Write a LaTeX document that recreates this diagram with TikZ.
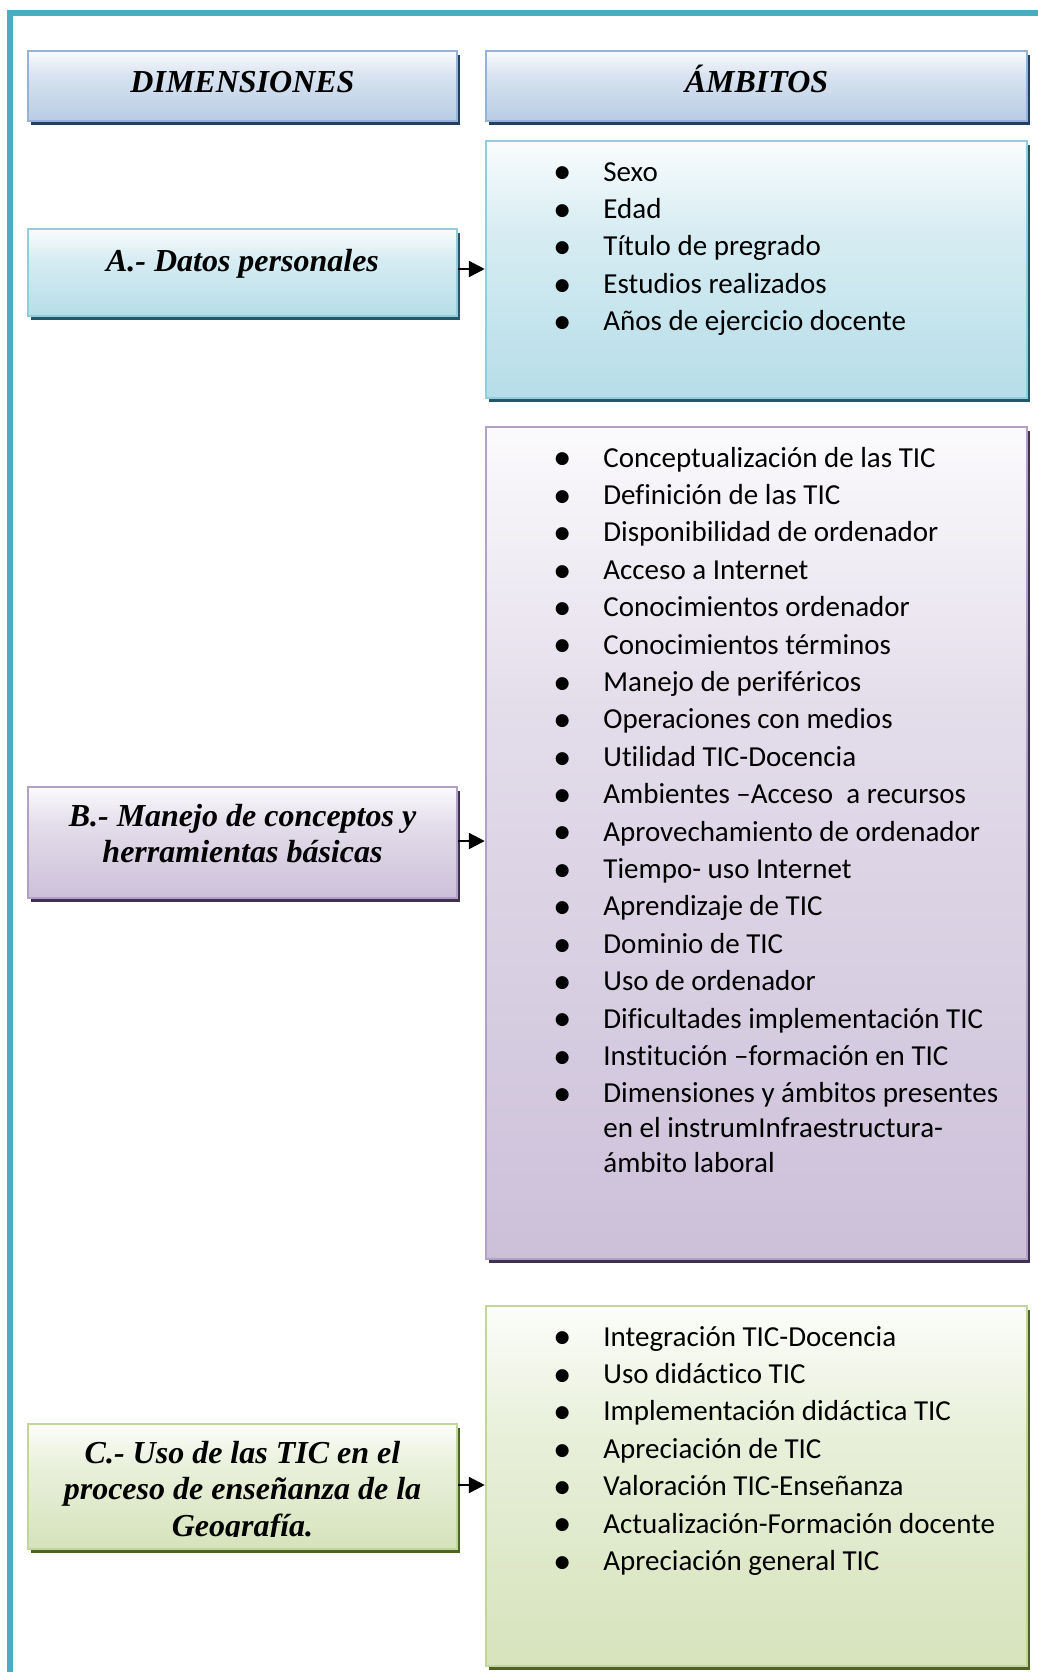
\documentclass[tikz,border=0pt]{standalone}
\usepackage{fontspec}
\setmainfont{Liberation Serif}
\newfontfamily\listfont[Ligatures=NoCommon]{Carlito}
\newfontfamily\dotfont{DejaVu Sans}
\usetikzlibrary{arrows.meta,shadows,fit}

% frame
\definecolor{framecol}{HTML}{4BACC6}
% blue scheme (headers)
\definecolor{bdrB}{HTML}{95B3D7}
\definecolor{shdB}{HTML}{243F60}
\definecolor{botB}{HTML}{B8CCE4}
% teal scheme (A)
\definecolor{bdrT}{HTML}{92CDDC}
\definecolor{shdT}{HTML}{215968}
\definecolor{botT}{HTML}{B6DDE8}
% purple scheme (B)
\definecolor{bdrP}{HTML}{B2A1C7}
\definecolor{shdP}{HTML}{3F3151}
\definecolor{botP}{HTML}{CCC0D9}
% green scheme (C)
\definecolor{bdrG}{HTML}{C2D69B}
\definecolor{shdG}{HTML}{4F6228}
\definecolor{botG}{HTML}{D6E3BC}

\colorlet{midB}{botB!55!white}\colorlet{topB}{botB!8!white}
\colorlet{midT}{botT!55!white}\colorlet{topT}{botT!8!white}
\colorlet{midP}{botP!55!white}\colorlet{topP}{botP!8!white}
\colorlet{midG}{botG!55!white}\colorlet{topG}{botG!8!white}

% light-to-colour vertical gradients (visible range 25bp..75bp)
\pgfdeclareverticalshading{shadeB}{100bp}{color(0bp)=(botB); color(25bp)=(botB); color(57.5bp)=(midB); color(75bp)=(topB); color(100bp)=(topB)}
\pgfdeclareverticalshading{shadeT}{100bp}{color(0bp)=(botT); color(25bp)=(botT); color(57.5bp)=(midT); color(75bp)=(topT); color(100bp)=(topT)}
\pgfdeclareverticalshading{shadeP}{100bp}{color(0bp)=(botP); color(25bp)=(botP); color(57.5bp)=(midP); color(75bp)=(topP); color(100bp)=(topP)}
\pgfdeclareverticalshading{shadeG}{100bp}{color(0bp)=(botG); color(25bp)=(botG); color(57.5bp)=(midG); color(75bp)=(topG); color(100bp)=(topG)}

% list bullets
\newcommand\bul{\makebox[0pt][c]{\dotfont\fontsize{8.5pt}{8.5pt}\selectfont\raisebox{1.6pt}{●}}\hspace{20.5pt}}
\newcommand\cont{\hspace{20.5pt}}

\begin{document}
\begin{tikzpicture}[x=0.5pt,y=-0.5pt,
  panel/.style={rectangle, line width=1.25pt, inner sep=0pt},
  bluepanel/.style={panel, draw=bdrB, shading=shadeB,
    general shadow={fill=shdB, shadow xshift=1.3pt, shadow yshift=-2.2pt}},
  tealpanel/.style={panel, draw=bdrT, shading=shadeT,
    general shadow={fill=shdT, shadow xshift=1.3pt, shadow yshift=-2.2pt}},
  purplepanel/.style={panel, draw=bdrP, shading=shadeP,
    general shadow={fill=shdP, shadow xshift=1.3pt, shadow yshift=-2.2pt}},
  greenpanel/.style={panel, draw=bdrG, shading=shadeG,
    general shadow={fill=shdG, shadow xshift=1.3pt, shadow yshift=-2.2pt}},
  headtxt/.style={inner sep=0pt, anchor=base, font=\fontsize{16pt}{18pt}\selectfont\bfseries\itshape},
  listtxt/.style={inner sep=0pt, anchor=base west, font=\listfont\fontsize{14.5pt}{18.7pt}\selectfont},
  arr/.style={line width=1.2pt, -{Triangle[length=8pt,width=8pt]}},
  frame/.style={draw=framecol, line width=3pt, line join=miter}]

\useasboundingbox (0,0) rectangle (1038,1672);

% outer frame (top and left sides)
\draw[frame] (1038,13) -- (10,13) -- (10,1672);

% column headers
\node[bluepanel, fit={(28,51) (457,121)}] (dim) {};
\node[bluepanel, fit={(486,51) (1027,121)}] (amb) {};
\node[headtxt] (dimtxt) at (242.5,92.5) {DIMENSIONES};
\node[headtxt] (ambtxt) at (756.5,92.5) {ÁMBITOS};

% dimension A
\node[tealpanel, fit={(28,229) (457,316)}] (abox) {};
\node[tealpanel, fit={(486,141) (1027,398)}] (alist) {};
\node[headtxt] (atxt) at (242.5,271) {A.- Datos personales};
\node[listtxt] (aitems) at (562,181) {\begin{tabular}[t]{@{}l@{}}
  \bul Sexo\\
  \bul Edad\\
  \bul Título de pregrado\\
  \bul Estudios realizados\\
  \bul Años de ejercicio docente
\end{tabular}};

% dimension B
\node[purplepanel, fit={(28,787) (457,898)}] (bbox) {};
\node[purplepanel, fit={(486,427) (1027,1259)}] (blist) {};
\node[headtxt] (btxt) at (242.5,826) {\begin{tabular}[t]{@{}c@{}}
  B.- Manejo de conceptos y\\ herramientas básicas\end{tabular}};
\node[listtxt] (bitems) at (562,467) {\begin{tabular}[t]{@{}l@{}}
  \bul Conceptualización de las TIC\\
  \bul Definición de las TIC\\
  \bul Disponibilidad de ordenador\\
  \bul Acceso a Internet\\
  \bul Conocimientos ordenador\\
  \bul Conocimientos términos\\
  \bul Manejo de periféricos\\
  \bul Operaciones con medios\\
  \bul Utilidad TIC-Docencia\\
  \bul Ambientes –Acceso\ \ a recursos\\
  \bul Aprovechamiento de ordenador\\
  \bul Tiempo- uso Internet\\
  \bul Aprendizaje de TIC\\
  \bul Dominio de TIC\\
  \bul Uso de ordenador\\
  \bul Dificultades implementación TIC\\
  \bul Institución –formación en TIC\\
  \bul Dimensiones y ámbitos presentes\\[-1.2pt]
  \cont en el instrumInfraestructura-\\[-1.2pt]
  \cont ámbito laboral
\end{tabular}};

% dimension C
\node[greenpanel, fit={(28,1424) (457,1549)}] (cbox) {};
\node[greenpanel, fit={(486,1306) (1027,1666)}] (clist) {};
\begin{scope}
  \clip (28,1424) rectangle (457,1536.5);
  \node[headtxt] (ctxt) at (242.5,1463) {\begin{tabular}[t]{@{}c@{}}
    C.- Uso de las TIC en el\\[0.25pt] proceso de enseñanza de la\\[0.25pt] Geografía.\end{tabular}};
\end{scope}
\node[listtxt] (citems) at (562,1346) {\begin{tabular}[t]{@{}l@{}}
  \bul Integración TIC-Docencia\\
  \bul Uso didáctico TIC\\
  \bul Implementación didáctica TIC\\
  \bul Apreciación de TIC\\
  \bul Valoración TIC-Enseñanza\\
  \bul Actualización-Formación docente\\
  \bul Apreciación general TIC
\end{tabular}};

% connectors from each dimension to its list
\draw[arr] ([yshift=1.75pt]abox.east) -- ([yshift=1.75pt]abox.east -| alist.west);
\draw[arr] ([yshift=0.75pt]bbox.east) -- ([yshift=0.75pt]bbox.east -| blist.west);
\draw[arr] ([yshift=0.75pt]cbox.east) -- ([yshift=0.75pt]cbox.east -| clist.west);
\end{tikzpicture}
\end{document}
